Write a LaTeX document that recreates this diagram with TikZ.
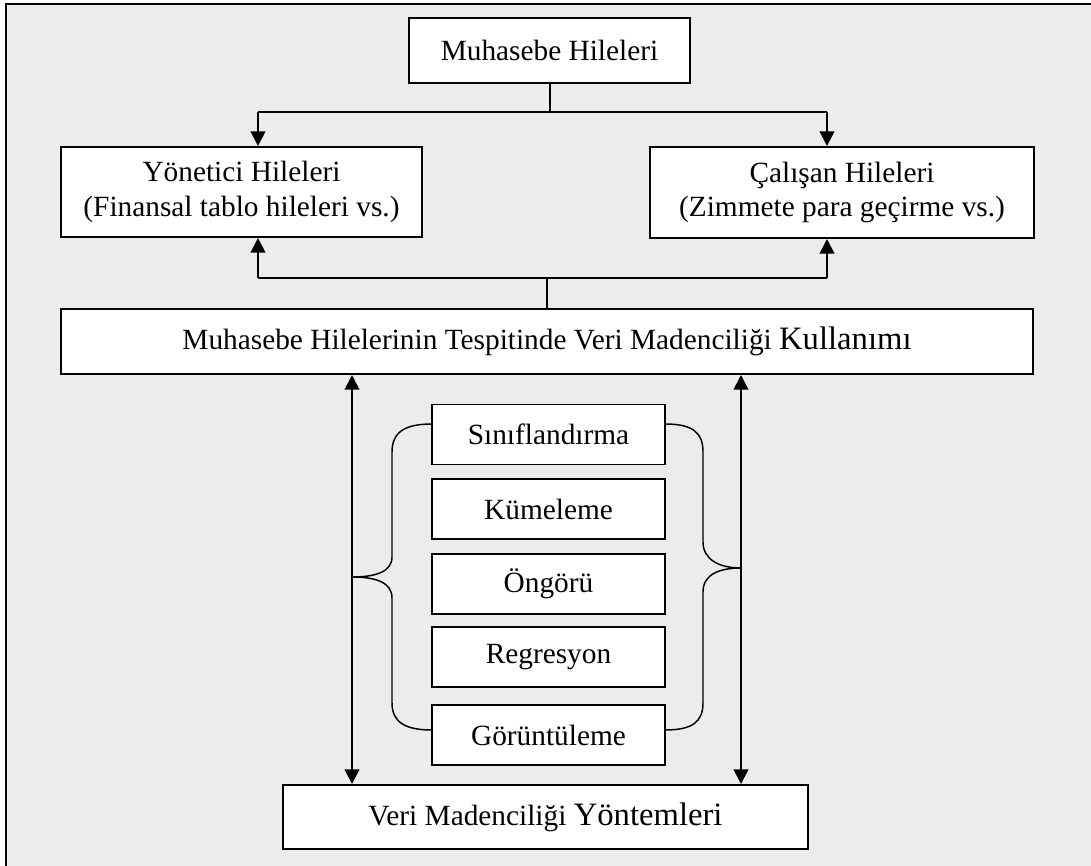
\documentclass[tikz,border=0pt]{standalone}
\usepackage{fontspec}
\setmainfont{Liberation Serif}
\usetikzlibrary{arrows.meta}
\definecolor{bggray}{RGB}{236,236,236}
\tikzset{
  box/.style={draw=black, fill=white, line width=1.5pt, inner sep=0pt, align=center,
    font=\fontsize{22}{26}\selectfont},
  smallbox/.style={box, line width=1.1pt, minimum width=174.75pt, minimum height=45pt},
  link/.style={line width=1.5pt},
  arr/.style={link, -{Triangle[length=11pt,width=11pt]}},
  dblarr/.style={link, {Triangle[length=11pt,width=11pt]}-{Triangle[length=11pt,width=11pt]}},
  brace/.style={line width=1.1pt},
}
\newcommand{\largerword}{\fontsize{24.5}{26}\selectfont}
\begin{document}
\begin{tikzpicture}[x=0.75pt, y=-0.75pt]
  \useasboundingbox (0,0) rectangle (1091,866);
  % frame
  \fill[bggray] (6,4) rectangle (1091,866);
  \draw[line width=1.5pt] (6,866) -- (6,4) -- (1091,4);

  % main boxes
  \node[box, minimum width=210.75pt, minimum height=48.75pt] (top) at (549.5,50.5) {Muhasebe Hileleri};
  \node[box, minimum width=270.75pt, minimum height=67.5pt] (yon) at (241.5,192) {Yönetici Hileleri\\(Finansal tablo hileleri vs.)};
  \node[box, minimum width=288pt, minimum height=68.25pt] (cal) at (842,192.5) {Çalışan Hileleri\\(Zimmete para geçirme vs.)};
  \node[box, minimum width=729pt, minimum height=48.75pt] (mid) at (547,341.5) {Muhasebe Hilelerinin Tespitinde Veri Madenciliği {\largerword Kullanımı}};
  \node[box, minimum width=393.75pt, minimum height=48pt] (bot) at (545.5,817) {Veri Madenciliği {\largerword Yöntemleri}};

  % methods
  \node[smallbox] (sin) at (548.5,434.5) {Sınıflandırma};
  \node[smallbox] (kum) at (548.5,509) {Kümeleme};
  \node[smallbox] (ong) at (548.5,584) {Öngörü};
  \node[smallbox] (reg) at (548.5,657) {Regresyon};
  \node[smallbox] (gor) at (548.5,735) {Görüntüleme};

  % branching from the top box
  \coordinate (aL) at (258,112);
  \coordinate (aR) at (827,112);
  \draw[link] (top.south) -- (top.south |- aL);
  \draw[link] (aL) -- (aR);
  \draw[arr] (aL) -- (aL |- yon.north);
  \draw[arr] (aR) -- (aR |- cal.north);

  % branching from the middle box
  \coordinate (bL) at (258,278);
  \coordinate (bR) at (827,278);
  \draw[link] (mid.north) -- (mid.north |- bL);
  \draw[link] (bL) -- (bR);
  \draw[arr] (bL) -- (bL |- yon.south);
  \draw[arr] (bR) -- (bR |- cal.south);

  % two-way links between middle and bottom boxes
  \coordinate (dL) at (352,0);
  \coordinate (dR) at (741,0);
  \draw[dblarr] (mid.south -| dL) -- (bot.north -| dL);
  \draw[dblarr] (mid.south -| dR) -- (bot.north -| dR);

  % braces round the methods
  \draw[brace] (432,424) .. controls (405,424) and (392,432) .. (392,452) -- (392,557)
    .. controls (392,572) and (375,577) .. (352,577)
    .. controls (375,577) and (392,582) .. (392,598) -- (392,703)
    .. controls (392,722) and (405,730) .. (432,730);
  \draw[brace] (665,424) .. controls (692,424) and (703,432) .. (703,452) -- (703,542)
    .. controls (703,560) and (720,568) .. (741,568)
    .. controls (720,568) and (703,574) .. (703,592) -- (703,703)
    .. controls (703,722) and (692,730) .. (665,730);
\end{tikzpicture}
\end{document}
